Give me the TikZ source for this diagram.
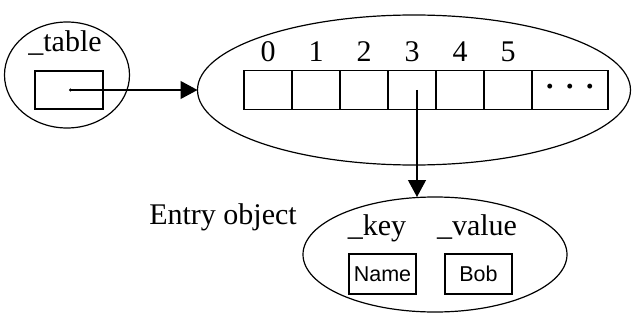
\documentclass[tikz,border=0pt]{standalone}
\usepackage{fontspec}
\setmainfont{Liberation Serif}
\newfontfamily\boxfont{Liberation Sans}
\usetikzlibrary{shapes.geometric,arrows.meta}

\begin{document}
\begin{tikzpicture}[x=1pt,y=-1pt,line width=1.2pt,
  font=\fontsize{30}{34}\selectfont,
  cell/.style={draw,minimum width=48pt,minimum height=39pt,inner sep=0pt},
  field/.style={draw,font=\boxfont\fontsize{21.5}{23}\selectfont,minimum width=67pt,minimum height=40pt,inner sep=0pt},
  oval/.style={ellipse,draw,inner sep=0pt,outer sep=0pt},
  ptr/.style={-{Triangle[length=17pt,width=18pt]}}]
\useasboundingbox (0,0) rectangle (632,329);
\node[oval,minimum width=125pt,minimum height=106pt] (tbl) at (67,75){};
\node[anchor=base] (tblname) at (65,52){\_table};
\node[draw,minimum width=68pt,minimum height=38pt] (slot) at (69,90){};
\node[oval,minimum width=433pt,minimum height=150pt] (arr) at (414,90){};
\foreach \i in {0,...,5}{
  \node[cell] (c\i) at (268+48*\i,90){};
  \node[anchor=base] (n\i) at (268+48*\i,62){\i};
}
\node[cell,minimum width=76pt] (cdots) at (570,90){\textbf{·\,\,·\,\,·}};
\node[oval,minimum width=264pt,minimum height=115pt] (entry) at (435,254.5){};
\node[anchor=base] (keylbl) at (377,235){\_key};
\node[anchor=base] (vallbl) at (477,235){\_value};
\node[field] (name) at (382.5,274){Name};
\node[field] (bob) at (478.5,274){Bob};
\node[anchor=base] (entrylbl) at (223,224){Entry object};
\draw[{Circle[length=3pt]}-{Triangle[length=17pt,width=18pt]}] (slot.center) -- (arr.west);
\draw[ptr] ([xshift=5pt]c3.center) -- ([xshift=5pt]c3.center |- entry.north);
\end{tikzpicture}
\end{document}
